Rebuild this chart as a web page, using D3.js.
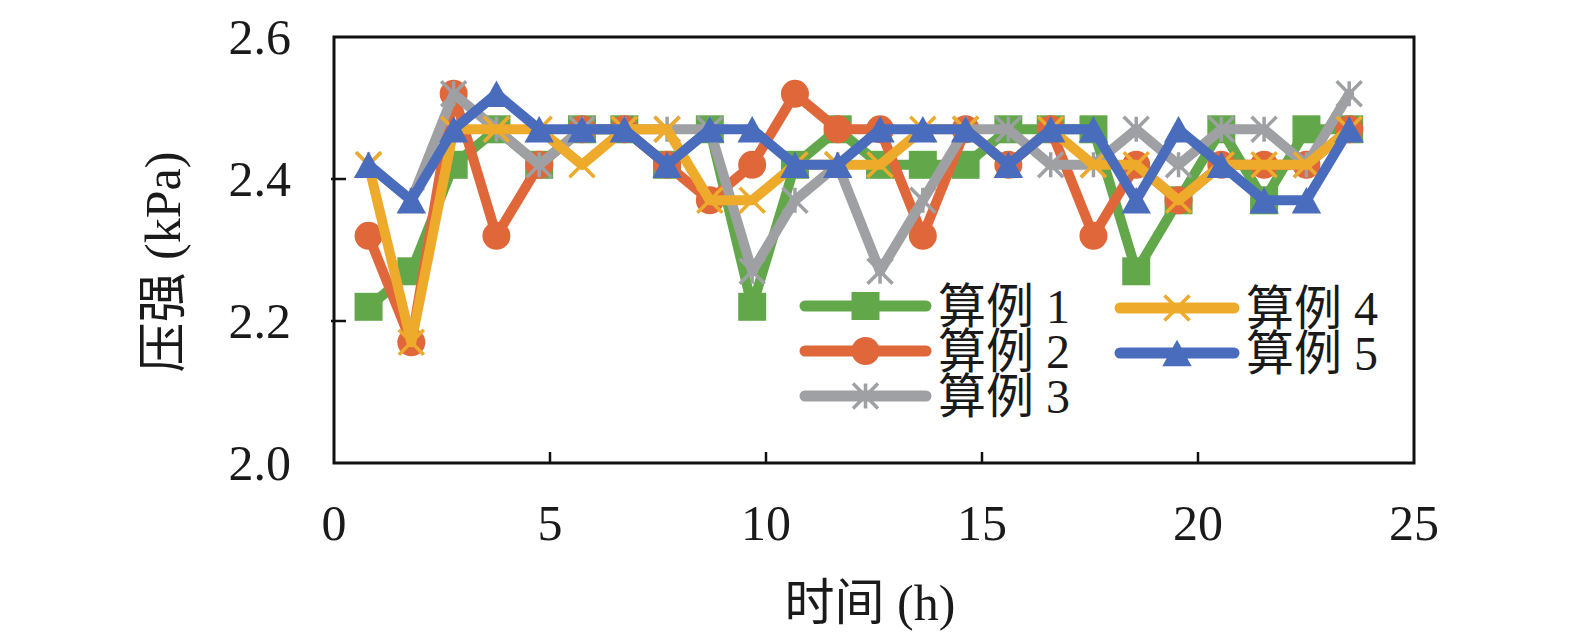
<!DOCTYPE html>
<html>
<head>
<meta charset="utf-8">
<script src="https://cdn.jsdelivr.net/npm/d3@7"></script>
<style>
  body { margin: 0; background: #fff; }
  text { font-family: "Liberation Serif", "Times New Roman", "Noto Sans CJK SC", serif; fill: #1a1a1a; }
</style>
</head>
<body>
<svg id="chart" width="1575" height="644"></svg>
<script>
// hours of each sample
const HOURS = [0.8, 1.79, 2.77, 3.76, 4.75, 5.74, 6.72, 7.71, 8.7, 9.68, 10.67, 11.66,
  12.64, 13.63, 14.62, 15.61, 16.59, 17.58, 18.57, 19.55, 20.54, 21.53, 22.51, 23.5];

const CASE1 = [2.22, 2.27, 2.42, 2.47, 2.42, 2.47, 2.47, 2.42, 2.47, 2.22, 2.42, 2.47,
  2.42, 2.42, 2.42, 2.47, 2.47, 2.47, 2.27, 2.37, 2.47, 2.37, 2.47, 2.47];
const CASE2 = [2.32, 2.17, 2.52, 2.32, 2.42, 2.47, 2.47, 2.42, 2.37, 2.42, 2.52, 2.47,
  2.47, 2.32, 2.47, 2.42, 2.47, 2.32, 2.42, 2.37, 2.42, 2.42, 2.42, 2.47];
const CASE3 = [2.42, 2.37, 2.52, 2.47, 2.42, 2.47, 2.47, 2.47, 2.47, 2.27, 2.37, 2.42,
  2.27, 2.37, 2.47, 2.47, 2.42, 2.42, 2.47, 2.42, 2.47, 2.47, 2.42, 2.52];
const CASE4 = [2.42, 2.17, 2.47, 2.47, 2.47, 2.42, 2.47, 2.47, 2.37, 2.37, 2.42, 2.42,
  2.42, 2.47, 2.47, 2.42, 2.47, 2.42, 2.42, 2.37, 2.42, 2.42, 2.42, 2.47];
const CASE5 = [2.42, 2.37, 2.47, 2.52, 2.47, 2.47, 2.47, 2.42, 2.47, 2.47, 2.42, 2.42,
  2.47, 2.47, 2.47, 2.42, 2.47, 2.47, 2.37, 2.47, 2.42, 2.37, 2.37, 2.47];

const X_TICKS = [0, 5, 10, 15, 20, 25];
const Y_TICKS = [2.0, 2.2, 2.4, 2.6];

const SERIES = [
  { label: "算例 1", values: CASE1, color: "#62a84a", marker: "square" },
  { label: "算例 2", values: CASE2, color: "#e0673a", marker: "circle" },
  { label: "算例 3", values: CASE3, color: "#9fa0a4", marker: "star" },
  { label: "算例 4", values: CASE4, color: "#eeab2b", marker: "cross" },
  { label: "算例 5", values: CASE5, color: "#4a6cbc", marker: "triangle" },
];

const PLOT = { left: 334, right: 1414, top: 37, bottom: 463 };

const svg = d3.select("#chart");

const x = d3.scaleLinear().domain([0, 25]).range([PLOT.left, PLOT.right]);
const y = d3.scaleLinear().domain([2.0, 2.6]).range([PLOT.bottom, PLOT.top]);

// marker path, r = half size
function markerPath(type, r) {
  const p = d3.path();
  if (type === "square") {
    p.rect(-r, -r, 2 * r, 2 * r);
  } else if (type === "circle") {
    p.arc(0, 0, r, 0, Math.PI * 2);
  } else if (type === "triangle") {
    p.moveTo(0, -r * 0.95);
    p.lineTo(r * 1.05, r * 0.95);
    p.lineTo(-r * 1.05, r * 0.95);
    p.closePath();
  } else if (type === "cross") {
    p.moveTo(-r, -r); p.lineTo(r, r);
    p.moveTo(r, -r); p.lineTo(-r, r);
  } else if (type === "star") {
    p.moveTo(-r, -r); p.lineTo(r, r);
    p.moveTo(r, -r); p.lineTo(-r, r);
    p.moveTo(0, -r); p.lineTo(0, r);
  }
  return p.toString();
}

function drawMarker(g, s, cx, cy) {
  const stroked = s.marker === "cross" || s.marker === "star";
  g.append("path")
    .attr("transform", `translate(${cx},${cy})`)
    .attr("d", markerPath(s.marker, stroked ? 12.5 : 14))
    .attr("fill", stroked ? "none" : s.color)
    .attr("stroke", stroked ? s.color : "none")
    .attr("stroke-width", stroked ? 3.5 : 0);
}

// —— series: line then markers, in order ——
const line = d3.line()
  .x((d) => x(d[0]))
  .y((d) => y(d[1]));

const plotG = svg.append("g");
for (const s of SERIES) {
  const pts = HOURS.map((h, i) => [h, s.values[i]]);
  const g = plotG.append("g");
  g.append("path")
    .datum(pts)
    .attr("fill", "none")
    .attr("stroke", s.color)
    .attr("stroke-width", 10)
    .attr("stroke-linejoin", "round")
    .attr("stroke-linecap", "round")
    .attr("d", line);
  pts.forEach((d) => drawMarker(g, s, x(d[0]), y(d[1])));
}

// —— frame and ticks ——
svg.append("rect")
  .attr("x", PLOT.left)
  .attr("y", PLOT.top)
  .attr("width", PLOT.right - PLOT.left)
  .attr("height", PLOT.bottom - PLOT.top)
  .attr("fill", "none")
  .attr("stroke", "#111")
  .attr("stroke-width", 3);

svg.append("g").selectAll("line")
  .data(X_TICKS.slice(1, -1))
  .join("line")
  .attr("x1", (d) => x(d)).attr("x2", (d) => x(d))
  .attr("y1", PLOT.bottom).attr("y2", PLOT.bottom - 11)
  .attr("stroke", "#111").attr("stroke-width", 2.5);

svg.append("g").selectAll("line")
  .data(Y_TICKS.slice(1, -1))
  .join("line")
  .attr("x1", PLOT.left - 3).attr("x2", PLOT.left + 12)
  .attr("y1", (d) => y(d)).attr("y2", (d) => y(d))
  .attr("stroke", "#111").attr("stroke-width", 2.5);

svg.append("g").selectAll("text")
  .data(X_TICKS)
  .join("text")
  .attr("x", (d) => x(d))
  .attr("y", 540)
  .attr("text-anchor", "middle")
  .attr("font-size", 50)
  .text((d) => d);

svg.append("g").selectAll("text")
  .data(Y_TICKS)
  .join("text")
  .attr("x", 291)
  .attr("y", (d) => y(d) + 17)
  .attr("text-anchor", "end")
  .attr("font-size", 50)
  .text((d) => d3.format(".1f")(d));

// axis titles
svg.append("text")
  .attr("x", 870)
  .attr("y", 620)
  .attr("text-anchor", "middle")
  .attr("font-size", 50)
  .text("时间 (h)");

svg.append("text")
  .attr("transform", "translate(180,262) rotate(-90)")
  .attr("text-anchor", "middle")
  .attr("font-size", 50)
  .text("压强 (kPa)");

// —— legend (rows sit tight, as in the original) ——
const LEGEND_POS = [
  { x0: 805, x1: 926, ty: 306 },
  { x0: 805, x1: 926, ty: 351 },
  { x0: 805, x1: 926, ty: 396 },
  { x0: 1120, x1: 1234, ty: 308 },
  { x0: 1120, x1: 1234, ty: 353 },
];

const legend = svg.append("g");
SERIES.forEach((s, i) => {
  const p = LEGEND_POS[i];
  const g = legend.append("g");
  g.append("line")
    .attr("x1", p.x0).attr("x2", p.x1)
    .attr("y1", p.ty).attr("y2", p.ty)
    .attr("stroke", s.color)
    .attr("stroke-width", 11)
    .attr("stroke-linecap", "round");
  drawMarker(g, s, (p.x0 + p.x1) / 2, p.ty);
  g.append("text")
    .attr("x", p.x1 + 12)
    .attr("y", p.ty + 17)
    .attr("font-size", 48)
    .text(s.label);
});
</script>
</body>
</html>
